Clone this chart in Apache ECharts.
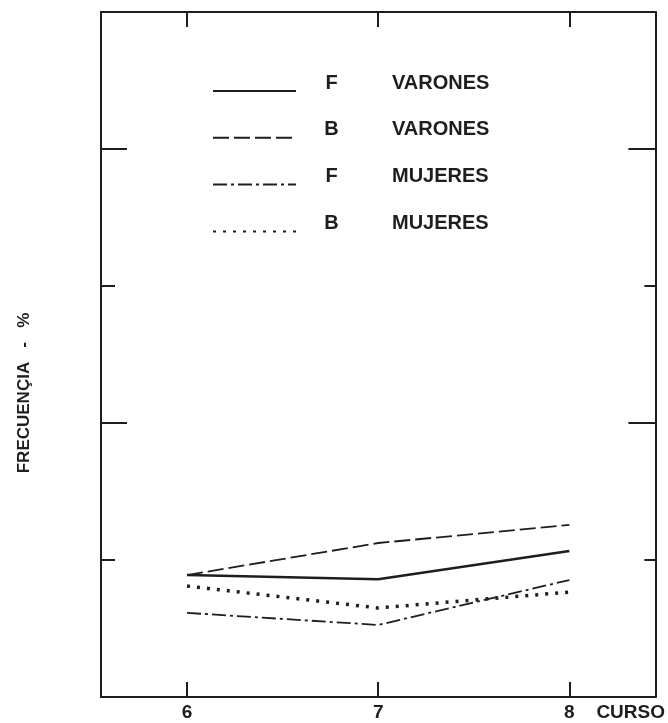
<!DOCTYPE html>
<html>
<head>
<meta charset="utf-8">
<script src="https://cdn.jsdelivr.net/npm/echarts@6/dist/echarts.min.js"></script>
<style>html,body{margin:0;padding:0;background:#fff}#c{width:668px;height:723px}</style>
</head>
<body>
<div id="c"></div>
<script>
var cursos = [6, 7, 8];
var fVarones = [4.45, 4.3, 5.33];
var bVarones = [4.45, 5.62, 6.28];
var fMujeres = [3.07, 2.63, 4.27];
var bMujeres = [4.05, 3.25, 3.83];
var legendCodes = ['F', 'B', 'F', 'B'];
var legendGroups = ['VARONES', 'VARONES', 'MUJERES', 'MUJERES'];
var xTickLabels = ['6', '7', '8'];
var longTicks = [10, 20];
var shortTicks = [5, 15];

var ink = '#1e1e1e';
var font = 'Liberation Sans, Arial, sans-serif';
function pairs(vals) { return cursos.map(function (c, i) { return [c, vals[i]]; }); }
var names = legendCodes.map(function (c, i) { return c + '  ' + legendGroups[i]; });

var chart = echarts.init(document.getElementById('c'));
function yAx(pos, ticks, len, line) {
  return {
    type: 'value', position: pos, min: 0, max: 25,
    axisLine: { show: line, lineStyle: { color: ink, width: 2 } },
    axisTick: { show: true, inside: true, length: len, customValues: ticks, lineStyle: { color: ink, width: 2 } },
    axisLabel: { show: false }, splitLine: { show: false }
  };
}
function xAx(pos, labels) {
  return {
    type: 'value', position: pos, min: 5.55, max: 8.45,
    axisLine: { show: true, onZero: false, lineStyle: { color: ink, width: 2 } },
    axisTick: { show: true, inside: true, length: 15, customValues: cursos, lineStyle: { color: ink, width: 2 } },
    axisLabel: labels ? { show: true, customValues: cursos, margin: 6, color: ink, fontFamily: font, fontWeight: 'bold', fontSize: 19,
      formatter: function (v) { return xTickLabels[cursos.indexOf(v)]; } } : { show: false },
    splitLine: { show: false },
    name: labels ? 'CURSO' : '', nameLocation: 'end', nameGap: -59,
    nameTextStyle: { color: ink, fontFamily: font, fontWeight: 'bold', fontSize: 19, align: 'left', verticalAlign: 'top', padding: [6, 0, 0, 0] }
  };
}
var styles = [
  { type: 'solid', width: 2.6 },
  { type: [16, 5], width: 1.8 },
  { type: [14, 4, 3, 4], width: 1.8 },
  { type: [3, 7], width: 3.5, cap: 'butt' }
];
var datasets = [fVarones, bVarones, fMujeres, bMujeres];
var series = datasets.map(function (d, i) {
  return {
    name: names[i], type: 'line', data: pairs(d), symbol: 'none', animation: false,
    lineStyle: { color: ink, width: styles[i].width, type: styles[i].type, cap: styles[i].cap || 'butt' },
    itemStyle: { color: ink }
  };
});
var yAxes = [yAx('left', longTicks, 26, true), yAx('left', shortTicks, 14, false), yAx('right', longTicks, 27, true), yAx('right', shortTicks, 11, false)];
yAxes[0].name = 'FRECUENÇIA   -   %';
yAxes[0].nameLocation = 'middle';
yAxes[0].nameRotate = 90;
yAxes[0].nameGap = 68;
yAxes[0].nameTextStyle = { color: ink, fontFamily: font, fontWeight: 'bold', fontSize: 17, padding: [0, 77, 0, 0] };
chart.setOption({
  animation: false,
  grid: { left: 101, right: 12, top: 12, bottom: 26 },
  xAxis: [xAx('bottom', true), xAx('top', false)],
  yAxis: yAxes,
  legend: {
    orient: 'vertical', left: 207, top: 68, itemWidth: 83, itemHeight: 12, itemGap: 24,
    data: names,
    itemStyle: { opacity: 0 },
    formatter: function (n) {
      var i = names.indexOf(n);
      return '{a|' + legendCodes[i] + '}{b|' + legendGroups[i] + '}';
    },
    textStyle: {
      rich: {
        a: { width: 61, align: 'right', fontFamily: font, fontWeight: 'bold', fontSize: 20, color: ink, padding: [0, 0, 16, 0] },
        b: { fontFamily: font, fontWeight: 'bold', fontSize: 20, color: ink, padding: [0, 0, 16, 30] }
      }
    }
  },
  series: series
});
</script>
</body>
</html>
